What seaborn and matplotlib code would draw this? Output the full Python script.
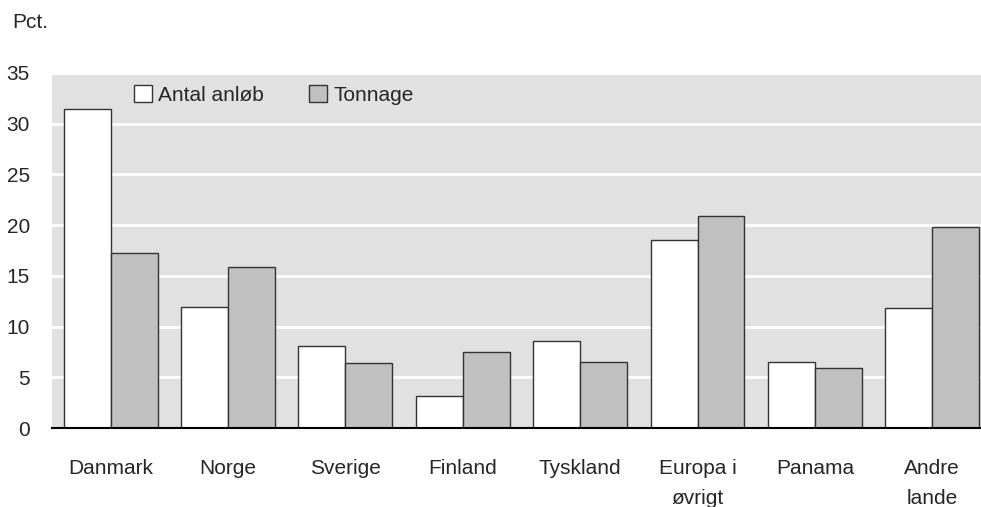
import matplotlib
matplotlib.use("Agg")
import matplotlib.pyplot as plt
import pandas as pd
import seaborn as sns

categories = ["Danmark", "Norge", "Sverige", "Finland", "Tyskland",
              "Europa i\nøvrigt", "Panama", "Andre\nlande"]
antal_anloeb = [31.5, 11.9, 8.1, 3.2, 8.6, 18.5, 6.5, 11.8]
tonnage = [17.3, 15.9, 6.4, 7.5, 6.5, 20.9, 5.9, 19.8]
series_names = ["Antal anløb", "Tonnage"]
yticks = [0, 5, 10, 15, 20, 25, 30, 35]

df = pd.DataFrame({
    "land": categories * 2,
    "serie": [series_names[0]] * len(categories) + [series_names[1]] * len(categories),
    "pct": antal_anloeb + tonnage,
})

sns.set_style("white")
plt.rcParams["font.family"] = ["Liberation Sans", "DejaVu Sans"]
plt.rcParams["font.size"] = 15

fig = plt.figure(figsize=(9.81, 5.07), dpi=100)
ax = fig.add_axes([52 / 981, 1 - 428 / 507, 1 - 52 / 981, 355 / 507])
ax.set_facecolor("#e1e1e1")

sns.barplot(data=df, x="land", y="pct", hue="serie", order=categories,
            hue_order=series_names, palette=["#ffffff", "#c0c0c0"],
            edgecolor="#333333", linewidth=1.0, width=0.8, ax=ax, zorder=3)

ax.set_ylim(0, 35)
ax.set_yticks(yticks)
ax.set_xlim(-0.5, 7.415)
ax.yaxis.grid(True, color="white", linewidth=2, zorder=0)
ax.set_axisbelow(True)
for s in ["top", "right", "left"]:
    ax.spines[s].set_visible(False)
ax.spines["bottom"].set_color("black")
ax.spines["bottom"].set_linewidth(1.5)
ax.spines["bottom"].set_zorder(5)
ax.tick_params(axis="y", length=0, pad=16, labelsize=15)
ax.tick_params(axis="x", length=0, pad=22, labelsize=15)
for lab in ax.get_xticklabels():
    lab.set_linespacing(1.75)
ax.set_xlabel("")
ax.set_ylabel("")

leg = ax.legend(loc="upper left", bbox_to_anchor=(0.068, 1.018), ncol=2,
                frameon=False, handlelength=0.85, handleheight=0.85,
                handletextpad=0.3, columnspacing=2.2, fontsize=15)

fig.text(12 / 981, 1 - 23 / 507, "Pct.", va="center", ha="left", fontsize=15)

fig.savefig("out.png", dpi=100)
